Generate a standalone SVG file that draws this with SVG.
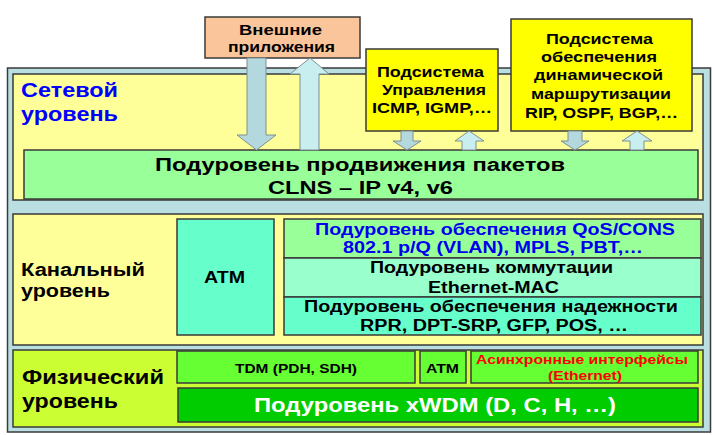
<svg xmlns="http://www.w3.org/2000/svg" width="715" height="435" viewBox="0 0 715 435">
<style>
.b{stroke:#3a3a3a;stroke-width:1.5}
.t{font-family:"Liberation Sans",Arial,sans-serif;font-weight:bold;fill:#000}
.dn{fill:#b3d9de;stroke:#7f8f90;stroke-width:1}
.up{fill:#c8eef0;stroke:#7f8f90;stroke-width:1}
</style>
<rect width="715" height="435" fill="#ffffff"/>
<g id="outer"><rect class="b" x="7.5" y="68" width="703" height="364" fill="#badfe3"/></g>
<g id="network">
<rect class="b" x="13" y="74" width="690" height="126" fill="#ffff99"/>
<text class="t" x="21" y="97" font-size="20" style="fill:#0000ff" textLength="97" lengthAdjust="spacingAndGlyphs">Сетевой</text>
<text class="t" x="21" y="121" font-size="20" style="fill:#0000ff" textLength="97" lengthAdjust="spacingAndGlyphs">уровень</text>
</g>
<g id="packet">
<rect class="b" x="24" y="150" width="674" height="49" fill="#99ff99"/>
<text class="t" x="155" y="171" font-size="18" textLength="410" lengthAdjust="spacingAndGlyphs">Подуровень продвижения пакетов</text>
<text class="t" x="268" y="194" font-size="18" textLength="185" lengthAdjust="spacingAndGlyphs">CLNS – IP v4, v6</text>
</g>
<g id="ext">
<rect class="b" x="205" y="17" width="155" height="41" fill="#fac59a"/>
<text class="t" x="239" y="35" font-size="15" textLength="83" lengthAdjust="spacingAndGlyphs">Внешние</text>
<text class="t" x="228" y="52" font-size="15" textLength="107" lengthAdjust="spacingAndGlyphs">приложения</text>
</g>
<g id="mgmt">
<rect class="b" x="366" y="49" width="132" height="82" fill="#ffff00"/>
<text class="t" x="377" y="77" font-size="15" textLength="107" lengthAdjust="spacingAndGlyphs">Подсистема</text>
<text class="t" x="382" y="95" font-size="15" textLength="104" lengthAdjust="spacingAndGlyphs">Управления</text>
<text class="t" x="372" y="113" font-size="15" textLength="120" lengthAdjust="spacingAndGlyphs">ICMP, IGMP,…</text>
</g>
<g id="routing">
<rect class="b" x="511" y="19" width="181" height="112" fill="#ffff00"/>
<text class="t" x="546" y="44" font-size="15" textLength="107" lengthAdjust="spacingAndGlyphs">Подсистема</text>
<text class="t" x="541" y="62" font-size="15" textLength="116" lengthAdjust="spacingAndGlyphs">обеспечения</text>
<text class="t" x="534" y="80" font-size="15" textLength="129" lengthAdjust="spacingAndGlyphs">динамической</text>
<text class="t" x="531" y="99" font-size="15" textLength="140" lengthAdjust="spacingAndGlyphs">маршрутизации</text>
<text class="t" x="525" y="118" font-size="15" textLength="153" lengthAdjust="spacingAndGlyphs">RIP, OSPF, BGP,…</text>
</g>
<g id="datalink">
<rect class="b" x="13" y="214" width="690" height="131" fill="#ffff99"/>
<text class="t" x="21" y="276" font-size="18" textLength="124" lengthAdjust="spacingAndGlyphs">Канальный</text>
<text class="t" x="21" y="297" font-size="18" textLength="89" lengthAdjust="spacingAndGlyphs">уровень</text>
</g>
<g id="atm">
<rect class="b" x="177" y="219" width="97" height="116" fill="#66ffcc"/>
<text class="t" x="204" y="283" font-size="17" textLength="41" lengthAdjust="spacingAndGlyphs">ATM</text>
</g>
<g id="qos">
<rect class="b" x="284" y="219" width="417" height="39" fill="#99ff99"/>
<text class="t" x="315" y="235" font-size="16" style="fill:#0000ee" textLength="360" lengthAdjust="spacingAndGlyphs">Подуровень обеспечения QoS/CONS</text>
<text class="t" x="343" y="253" font-size="16" style="fill:#0000ee" textLength="300" lengthAdjust="spacingAndGlyphs">802.1 p/Q (VLAN), MPLS, PBT,…</text>
</g>
<g id="switching">
<rect class="b" x="284" y="258" width="417" height="39" fill="#99ffcc"/>
<text class="t" x="370" y="273" font-size="16" textLength="243" lengthAdjust="spacingAndGlyphs">Подуровень коммутации</text>
<text class="t" x="428" y="293" font-size="16" textLength="131" lengthAdjust="spacingAndGlyphs">Ethernet-MAC</text>
</g>
<g id="reliability">
<rect class="b" x="284" y="297" width="417" height="38" fill="#66ffcc"/>
<text class="t" x="304" y="312" font-size="16" textLength="374" lengthAdjust="spacingAndGlyphs">Подуровень обеспечения надежности</text>
<text class="t" x="360" y="331" font-size="16" textLength="268" lengthAdjust="spacingAndGlyphs">RPR, DPT-SRP, GFP, POS, …</text>
</g>
<g id="physical">
<rect class="b" x="13" y="350" width="690" height="77" fill="#ccff33"/>
<text class="t" x="22" y="384" font-size="21" textLength="142" lengthAdjust="spacingAndGlyphs">Физический</text>
<text class="t" x="22" y="408" font-size="21" textLength="96" lengthAdjust="spacingAndGlyphs">уровень</text>
</g>
<g id="tdm">
<rect class="b" x="177" y="351" width="238" height="32" fill="#66ff33"/>
<text class="t" x="235" y="373" font-size="13" textLength="122" lengthAdjust="spacingAndGlyphs">TDM (PDH, SDH)</text>
</g>
<g id="atm2">
<rect class="b" x="420" y="351" width="46" height="32" fill="#66ff33"/>
<text class="t" x="426" y="373" font-size="13" textLength="33" lengthAdjust="spacingAndGlyphs">ATM</text>
</g>
<g id="async">
<rect class="b" x="471" y="351" width="227" height="32" fill="#66ff33"/>
<text class="t" x="476" y="364" font-size="13" style="fill:#ff0000" textLength="212" lengthAdjust="spacingAndGlyphs">Асинхронные интерфейсы</text>
<text class="t" x="548" y="380" font-size="13" style="fill:#ff0000" textLength="74" lengthAdjust="spacingAndGlyphs">(Ethernet)</text>
</g>
<g id="xwdm">
<rect class="b" x="178" y="388" width="520" height="34" fill="#00cc00"/>
<text class="t" x="254" y="412" font-size="20" style="fill:#ffffff" textLength="362" lengthAdjust="spacingAndGlyphs">Подуровень xWDM (D, C, H, …)</text>
</g>
<g id="connectors">
<polygon class="dn" points="247,58 266,58 266,135 276,135 256.5,150 237,135 247,135"/>
<polygon class="up" points="310,58 329,74 319,74 319,150 300,150 300,74 290,74"/>
<polygon class="dn" points="401,131 413,131 413,141 421,141 407,150 393,141 401,141"/>
<polygon class="up" points="469,131 484,141 476,141 476,150 462,150 462,141 455,141"/>
<polygon class="dn" points="568,131 582,131 582,141 589,141 575,150 561,141 568,141"/>
<polygon class="up" points="637,131 652,141 644,141 644,150 630,150 630,141 622,141"/>
</g>
</svg>
